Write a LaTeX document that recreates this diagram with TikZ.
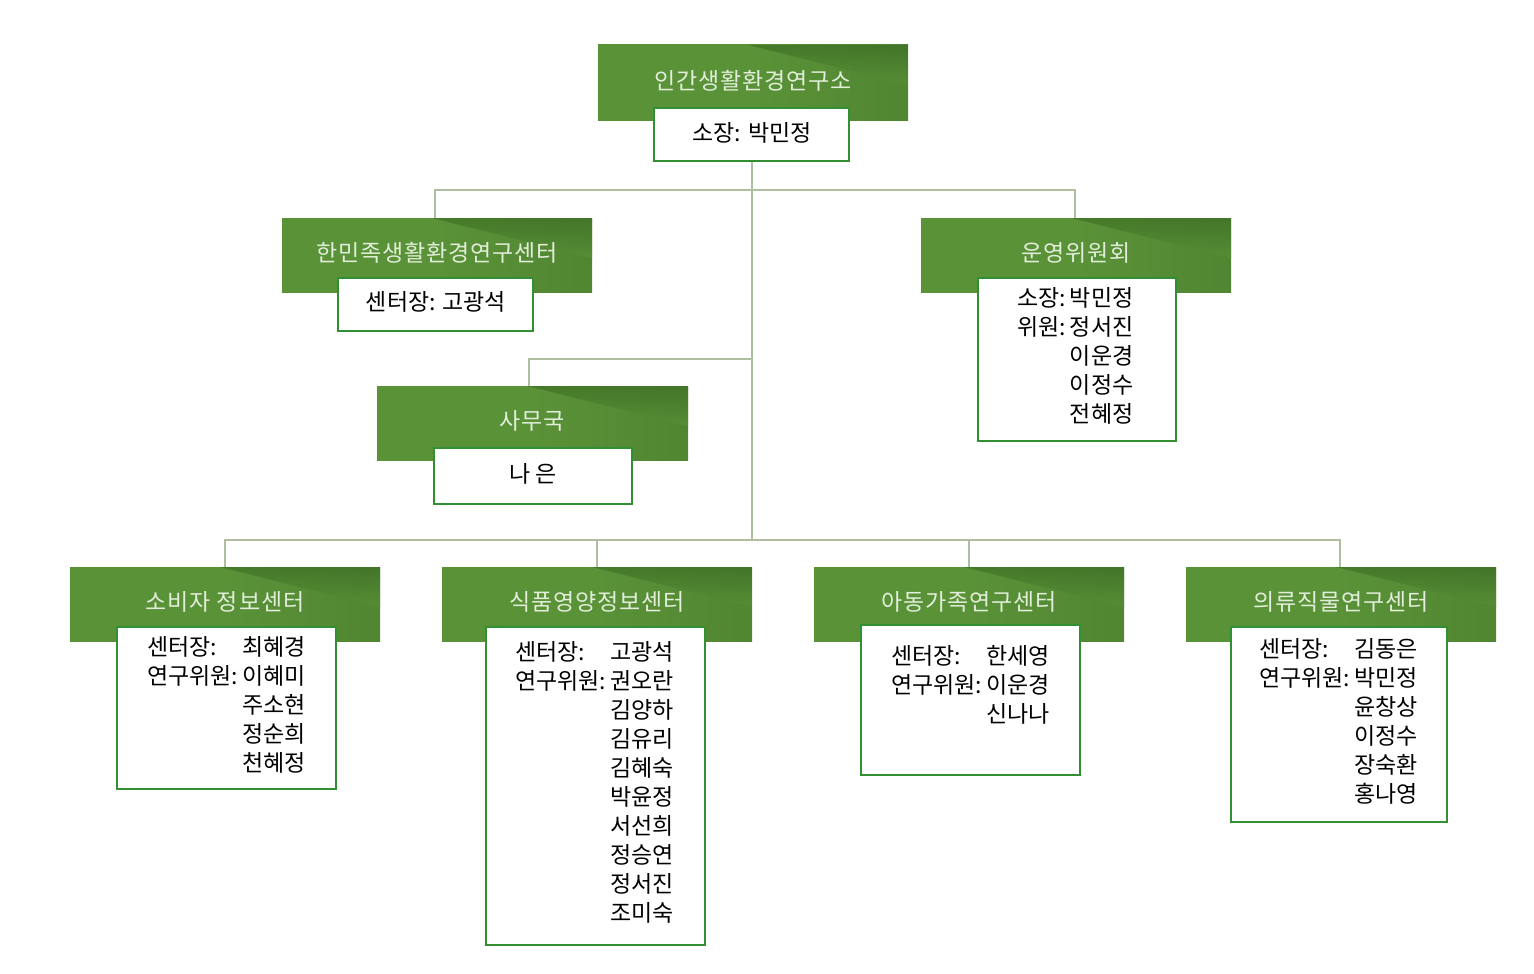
\documentclass[tikz,border=0pt]{standalone}
\usepackage{fontspec}
\setmainfont{Noto Sans CJK KR}
\newfontfamily\hd{Noto Sans CJK KR}[LetterSpace=4]
\begin{document}
\begin{tikzpicture}[x=1pt,y=-1pt,
  wbox/.style={draw=green!45!black!80, fill=white, line width=1.5pt},
  conn/.style={draw=lineg, line width=2pt},
  htxt/.style={text=hdtxt, font=\hd\fontsize{23}{28}\selectfont, inner sep=0pt},
  btxt/.style={font=\fontsize{23}{29}\selectfont, inner sep=0pt, align=left, anchor=north west}]
\definecolor{lineg}{HTML}{AEBFA0}
\definecolor{hdtxt}{HTML}{E2EDDA}
\definecolor{gA}{HTML}{5A9238}
\definecolor{gB}{HTML}{3A6A22}
\useasboundingbox (0,0) rectangle (1534,974);
\newcommand{\hdrbox}[5]{% name x1 y1 x2 y2
  \shade[left color=gA, right color=gA!70!gB, middle color=gA] (#2,#3) rectangle (#4,#5);
  \shade[top color=gB, bottom color=gA, opacity=0.6] (#2+150,#3) -- (#4,#3) -- (#4,#3+40) -- cycle;
  \coordinate (#1) at ({(#2+#4)/2},#3);}
% connectors
\coordinate (t) at (752,161);
\coordinate (b) at (752,540);
\coordinate (m2) at (752,359);
\draw[conn] (t) -- (b);
\draw[conn] (435,218) |- (1075,190) -- (1075,218);
\draw[conn] (529,386) |- (m2);
\draw[conn] (225,567) |- (1340,540) -- (1340,567);
\draw[conn] (597,540) -- (597,567);
\draw[conn] (969,540) -- (969,567);
% headers
\hdrbox{h0}{598}{45}{908}{120}
\hdrbox{h1}{282}{218}{592}{292}
\hdrbox{h2}{921}{218}{1231}{292}
\hdrbox{h3}{377}{386}{688}{460}
\hdrbox{h4}{70}{567}{380}{641}
\hdrbox{h5}{442}{567}{752}{641}
\hdrbox{h6}{814}{567}{1124}{641}
\hdrbox{h7}{1186}{567}{1496}{641}
\node[htxt] (t0) at (753,81) {인간생활환경연구소};
\node[htxt] (t1) at (437,253) {한민족생활환경연구센터};
\node[htxt] (t2) at (1076,253) {운영위원회};
\node[htxt] (t3) at (532,421) {사무국};
\node[htxt] (t4) at (225,602) {소비자 정보센터};
\node[htxt] (t5) at (597,602) {식품영양정보센터};
\node[htxt] (t6) at (969,602) {아동가족연구센터};
\node[htxt] (t7) at (1341,602) {의류직물연구센터};
% white boxes
\draw[wbox] (654,108) rectangle (849,161);
\draw[wbox] (338,278) rectangle (533,331);
\draw[wbox] (978,278) rectangle (1176,441);
\draw[wbox] (434,448) rectangle (632,504);
\draw[wbox] (117,627) rectangle (336,789);
\draw[wbox] (486,627) rectangle (705,945);
\draw[wbox] (861,625) rectangle (1080,775);
\draw[wbox] (1231,627) rectangle (1447,822);
\node[btxt, anchor=center] (w0) at (752,133) {소장: 박민정};
\node[btxt, anchor=center] (w1) at (436,302) {센터장: 고광석};
\node[btxt, anchor=center] (w3) at (533,474) {나 은};
\node[btxt] (w2) at (1017,286) {\begin{tabular}{@{}l@{\hspace{4pt}}l@{}}소장:&박민정\\위원:&정서진\\&이운경\\&이정수\\&전혜정\end{tabular}};
\node[btxt] (w4) at (147,635) {\begin{tabular}{@{}l@{\hspace{4pt}}l@{}}센터장:&최혜경\\연구위원:&이혜미\\&주소현\\&정순희\\&천혜정\end{tabular}};
\node[btxt] (w5) at (515,640) {\begin{tabular}{@{}l@{\hspace{4pt}}l@{}}센터장:&고광석\\연구위원:&권오란\\&김양하\\&김유리\\&김혜숙\\&박윤정\\&서선희\\&정승연\\&정서진\\&조미숙\end{tabular}};
\node[btxt] (w6) at (891,644) {\begin{tabular}{@{}l@{\hspace{4pt}}l@{}}센터장:&한세영\\연구위원:&이운경\\&신나나\end{tabular}};
\node[btxt] (w7) at (1259,637) {\begin{tabular}{@{}l@{\hspace{4pt}}l@{}}센터장:&김동은\\연구위원:&박민정\\&윤창상\\&이정수\\&장숙환\\&홍나영\end{tabular}};
\end{tikzpicture}
\end{document}
